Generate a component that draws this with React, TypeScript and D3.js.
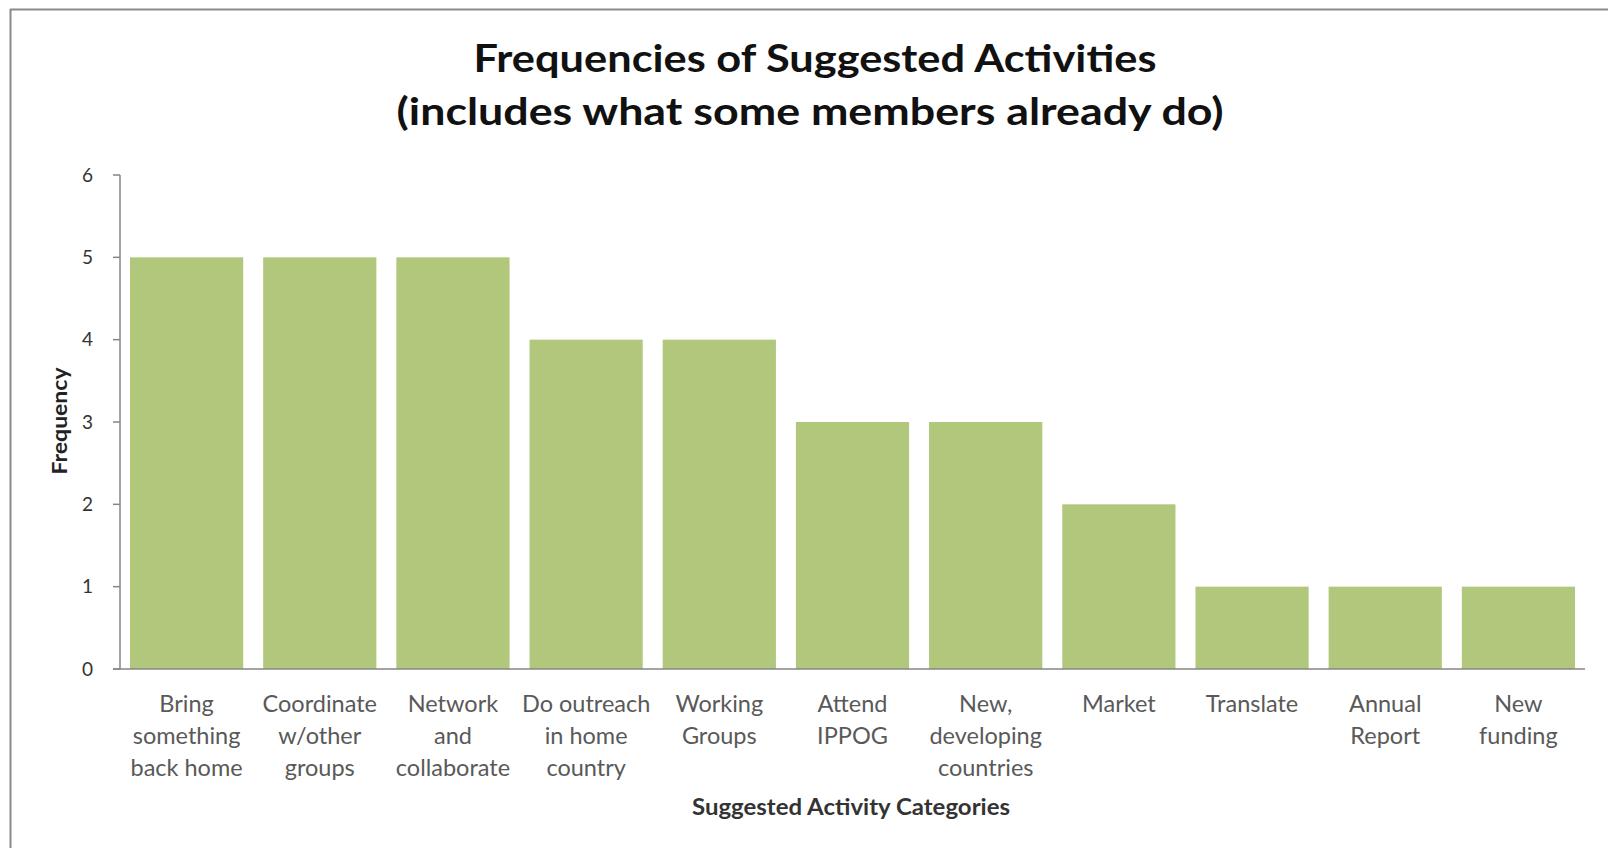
import React from "react";
import * as d3 from "d3";

const categories: string[][] = [
  ["Bring", "something", "back home"],
  ["Coordinate", "w/other", "groups"],
  ["Network", "and", "collaborate"],
  ["Do outreach", "in home", "country"],
  ["Working", "Groups"],
  ["Attend", "IPPOG"],
  ["New,", "developing", "countries"],
  ["Market"],
  ["Translate"],
  ["Annual", "Report"],
  ["New", "funding"],
];
const values: number[] = [5, 5, 5, 4, 4, 3, 3, 2, 1, 1, 1];
const yTicks: number[] = [0, 1, 2, 3, 4, 5, 6];
const titleLines: string[] = [
  "Frequencies of Suggested Activities",
  "(includes what some members already do)",
];
const yTitle = "Frequency";
const xTitle = "Suggested Activity Categories";

const W = 1608;
const H = 848;
const plot = { left: 120, right: 1585, top: 175, bottom: 669 };
const FONT = "Lato, 'Open Sans', sans-serif";

export default function App() {
  const ids = categories.map((_, i) => String(i));
  const x = d3
    .scaleBand<string>()
    .domain(ids)
    .range([plot.left, plot.right])
    .paddingInner(0.15)
    .paddingOuter(0.075);
  const y = d3.scaleLinear().domain([0, 6]).range([plot.bottom, plot.top]);
  const axisColor = "#868686";
  const textColor = "#595959";

  return (
    <svg
      width={W}
      height={H}
      style={{ position: "absolute", left: 0, top: 0, background: "#fff" }}
    >
      <rect x={0} y={0} width={W} height={H} fill="#fff" />
      <line x1={10} x2={W} y1={9.5} y2={9.5} stroke="#8a8a8a" strokeWidth={2} />
      <line x1={10.5} x2={10.5} y1={9} y2={H} stroke="#8a8a8a" strokeWidth={2} />
      {/* Title */}
      <text
        x={815}
        y={72}
        textAnchor="middle"
        fontFamily={FONT}
        fontWeight="bold"
        fontSize={38}
        fill="#111"
        textLength={683}
        lengthAdjust="spacingAndGlyphs"
      >
        {titleLines[0]}
      </text>
      <text
        x={810}
        y={125}
        textAnchor="middle"
        fontFamily={FONT}
        fontWeight="bold"
        fontSize={38}
        fill="#111"
        textLength={827}
        lengthAdjust="spacingAndGlyphs"
      >
        {titleLines[1]}
      </text>

      {/* Bars */}
      {values.map((v, i) => (
        <rect
          key={i}
          x={x(String(i))}
          y={y(v)}
          width={x.bandwidth()}
          height={y(0) - y(v)}
          fill="#b0c77c"
        />
      ))}

      {/* Y axis */}
      <line
        x1={plot.left}
        x2={plot.left}
        y1={y(6)}
        y2={y(0)}
        stroke={axisColor}
        strokeWidth={1.5}
      />
      {yTicks.map((t) => (
        <g key={t}>
          <line
            x1={plot.left - 7}
            x2={plot.left}
            y1={y(t)}
            y2={y(t)}
            stroke={axisColor}
            strokeWidth={1.5}
          />
          <text
            x={93}
            y={y(t)}
            dy="0.35em"
            textAnchor="end"
            fontFamily={FONT}
            fontSize={19}
            fill="#333"
          >
            {t}
          </text>
        </g>
      ))}
      <text
        transform={`translate(67, ${(plot.top + plot.bottom) / 2 - 1}) rotate(-90)`}
        textAnchor="middle"
        fontFamily={FONT}
        fontWeight="bold"
        fontSize={20}
        fill="#222"
        textLength={107}
        lengthAdjust="spacingAndGlyphs"
      >
        {yTitle}
      </text>

      {/* X axis */}
      <line
        x1={plot.left - 7}
        x2={plot.right}
        y1={y(0)}
        y2={y(0)}
        stroke={axisColor}
        strokeWidth={1.5}
      />
      {categories.map((lines, i) => (
        <text
          key={i}
          textAnchor="middle"
          fontFamily={FONT}
          fontSize={23.5}
          fill={textColor}
        >
          {lines.map((l, j) => (
            <tspan
              key={j}
              x={(x(String(i)) as number) + x.bandwidth() / 2}
              y={712 + j * 32}
            >
              {l}
            </tspan>
          ))}
        </text>
      ))}
      <text
        x={851}
        y={815}
        textAnchor="middle"
        fontFamily={FONT}
        fontWeight="bold"
        fontSize={22}
        fill="#333"
        textLength={318}
        lengthAdjust="spacingAndGlyphs"
      >
        {xTitle}
      </text>
    </svg>
  );
}
